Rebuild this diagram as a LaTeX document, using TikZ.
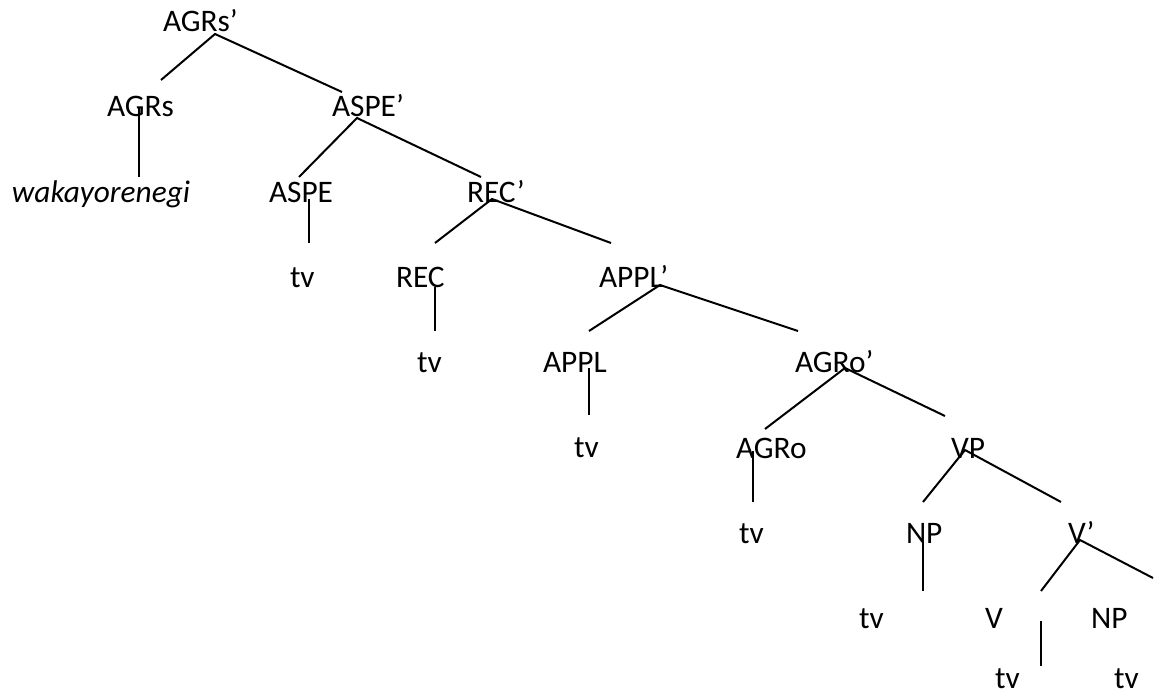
\documentclass[tikz,border=0pt]{standalone}
\usepackage{fontspec}
\setmainfont{Carlito}
\begin{document}
\begin{tikzpicture}[x=0.75pt,y=-0.75pt,
  lbl/.style={anchor=base west,inner sep=0pt,outer sep=0pt,font=\fontsize{23.5}{28}\selectfont},
  edge/.style={line width=1.5pt,black}]
\useasboundingbox (0,0) rectangle (1172,692);
% labels
\node[lbl] (agrsp) at (163,32) {AGRs’};
\node[lbl] (agrs) at (107,117) {AGRs};
\node[lbl] (aspep) at (332,117) {ASPE’};
\node[lbl] (waka) at (12,202) {\itshape wakayorenegi};
\node[lbl] (aspe) at (269,202) {ASPE};
\node[lbl] (recp) at (467,202) {REC’};
\node[lbl] (tva) at (290,287) {tv};
\node[lbl] (rec) at (396,287) {REC};
\node[lbl] (applp) at (599,287) {APPL’};
\node[lbl] (tvb) at (417,372) {tv};
\node[lbl] (appl) at (543,372) {APPL};
\node[lbl] (agrop) at (795,372) {AGRo’};
\node[lbl] (tvc) at (574,457) {tv};
\node[lbl] (agro) at (736,458) {AGRo};
\node[lbl] (vp) at (951,458) {VP};
\node[lbl] (tvd) at (739,543) {tv};
\node[lbl] (npa) at (906,543) {NP};
\node[lbl] (vbar) at (1068,543) {V’};
\node[lbl] (tve) at (859,628) {tv};
\node[lbl] (v) at (985,628) {V};
\node[lbl] (npb) at (1091,628) {NP};
\node[lbl] (tvf) at (995,688) {tv};
\node[lbl] (tvg) at (1114,688) {tv};
% connector end points
\coordinate (c1) at (215,34);   \coordinate (c1l) at (161,80);   \coordinate (c1r) at (342,92);
\coordinate (c2t) at (139,108); \coordinate (c2b) at (139,177);
\coordinate (c3) at (357,118);  \coordinate (c3l) at (299,177);  \coordinate (c3r) at (481,177);
\coordinate (c4t) at (309,199); \coordinate (c4b) at (309,243);
\coordinate (c5) at (492,199);  \coordinate (c5l) at (435,243);  \coordinate (c5r) at (611,243);
\coordinate (c6t) at (435,287); \coordinate (c6b) at (435,331);
\coordinate (c7) at (660,285);  \coordinate (c7l) at (589,331);  \coordinate (c7r) at (798,331);
\coordinate (c8t) at (589,368); \coordinate (c8b) at (589,415);
\coordinate (c9) at (845,368);  \coordinate (c9l) at (765,429);  \coordinate (c9r) at (945,416);
\coordinate (c10t) at (753,451); \coordinate (c10b) at (753,502);
\coordinate (c11) at (965,450); \coordinate (c11l) at (923,502); \coordinate (c11r) at (1061,502);
\coordinate (c12t) at (923,542); \coordinate (c12b) at (923,591);
\coordinate (c13) at (1080,540); \coordinate (c13l) at (1041,591); \coordinate (c13r) at (1153,578);
\coordinate (c14t) at (1041,621); \coordinate (c14b) at (1041,666);
% connectors
\draw[edge] (c1l) -- (c1) -- (c1r);
\draw[edge] (c2t) -- (c2b);
\draw[edge] (c3l) -- (c3) -- (c3r);
\draw[edge] (c4t) -- (c4b);
\draw[edge] (c5l) -- (c5) -- (c5r);
\draw[edge] (c6t) -- (c6b);
\draw[edge] (c7l) -- (c7) -- (c7r);
\draw[edge] (c8t) -- (c8b);
\draw[edge] (c9l) -- (c9) -- (c9r);
\draw[edge] (c10t) -- (c10b);
\draw[edge] (c11l) -- (c11) -- (c11r);
\draw[edge] (c12t) -- (c12b);
\draw[edge] (c13l) -- (c13) -- (c13r);
\draw[edge] (c14t) -- (c14b);
\end{tikzpicture}
\end{document}
